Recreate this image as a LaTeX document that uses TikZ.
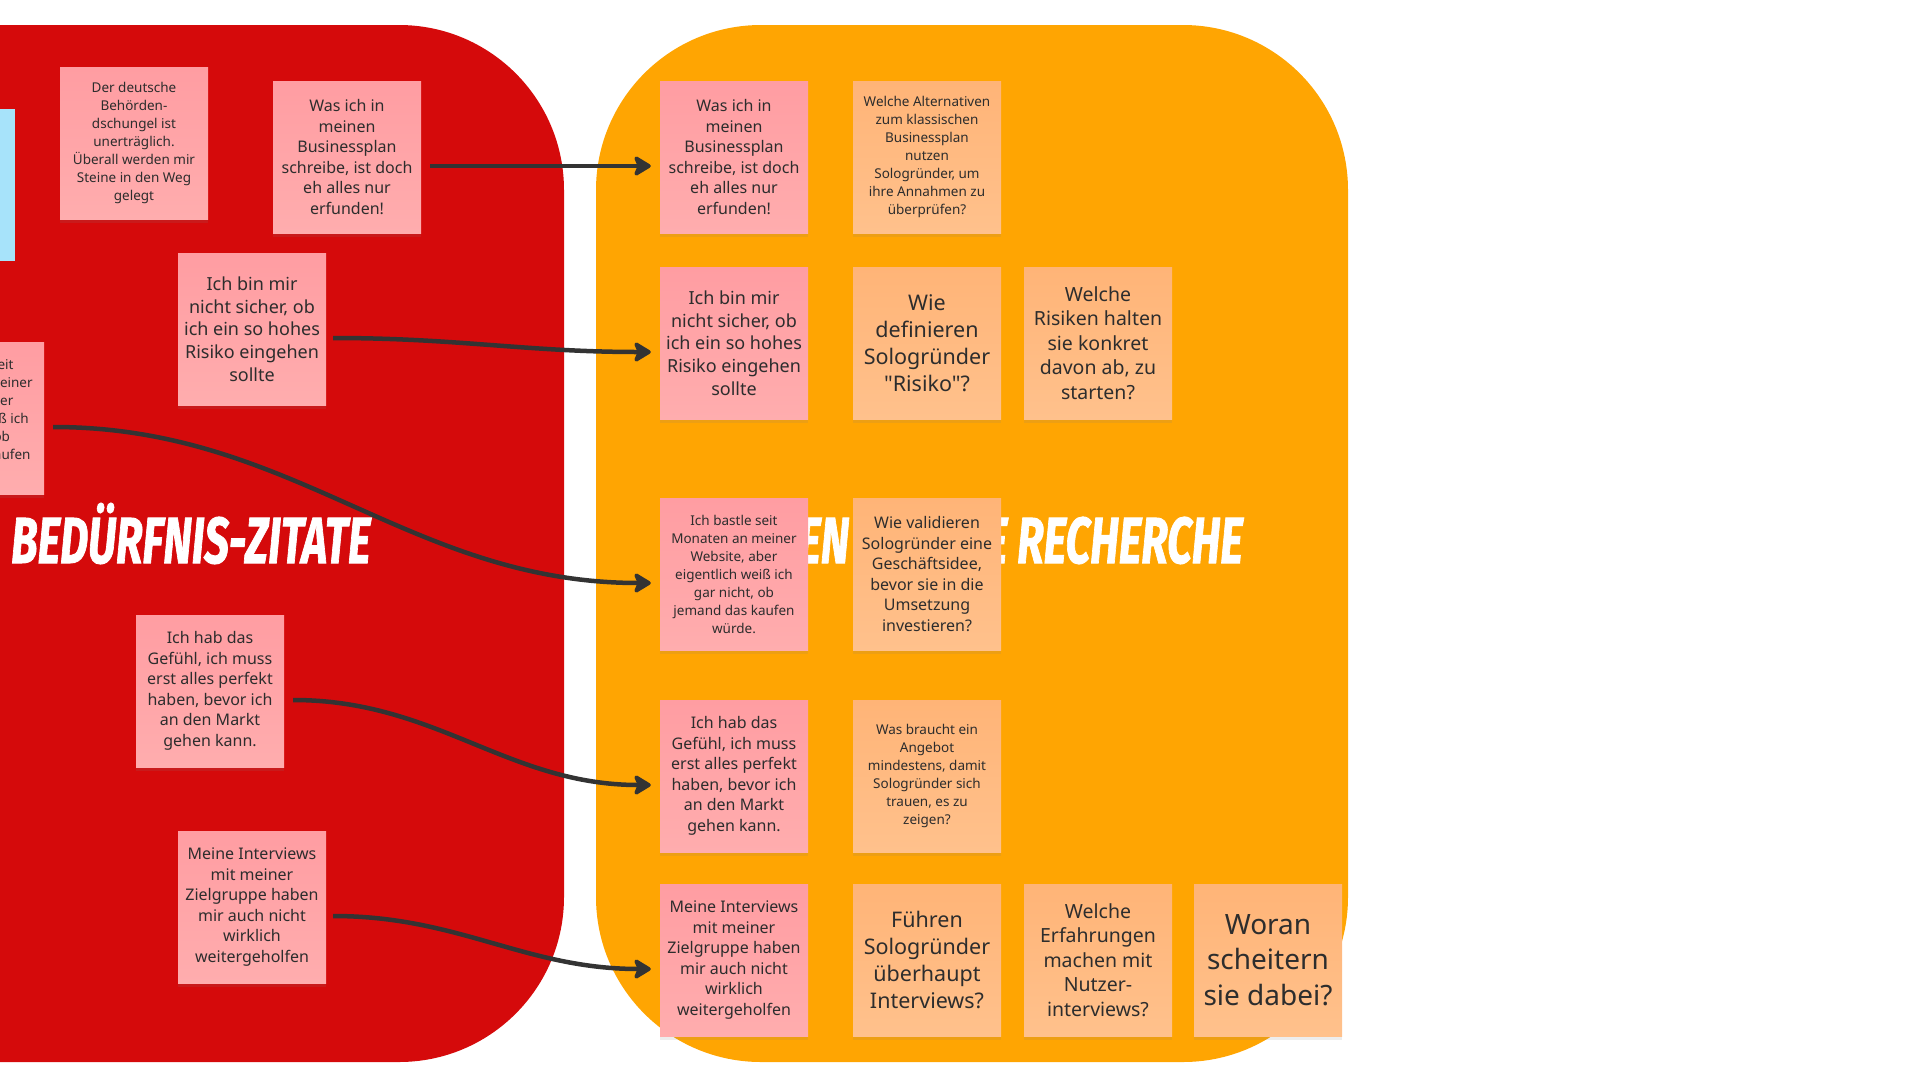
\documentclass[tikz,border=0pt]{standalone}
\usepackage{graphicx}
\usepackage{fontspec}
\setmainfont{Noto Sans}[Ligatures=TeXOff]
\newfontfamily\titlefont{Fira Sans}[BoldItalicFeatures={FakeBold=1.5}]
\usetikzlibrary{arrows.meta,shadows}
\definecolor{panelred}{HTML}{D50A0B}
\definecolor{panelorange}{HTML}{FFA502}
\definecolor{quotetop}{HTML}{FF9DA2}
\definecolor{quotebot}{HTML}{FFADAE}
\definecolor{questtop}{HTML}{FFB477}
\definecolor{questbot}{HTML}{FFC18C}
\definecolor{tagblue}{HTML}{A7E3FA}
\definecolor{arrowgray}{HTML}{333333}
\definecolor{notetext}{HTML}{2D2D2D}

\begin{document}
\begin{tikzpicture}[x=1pt,y=-1pt,
  note/.style={minimum width=148pt,minimum height=152pt,inner sep=0pt,align=center,text=notetext,
    drop shadow={shadow xshift=0pt,shadow yshift=-4pt,opacity=0.14}},
  quote/.style={note,top color=quotetop,bottom color=quotebot},
  quest/.style={note,top color=questtop,bottom color=questbot},
  fsA/.style={font=\fontsize{13.5}{18}\selectfont},
  fsB/.style={font=\fontsize{16}{20.5}\selectfont},
  fsC/.style={font=\fontsize{18}{22.7}\selectfont},
  fsD/.style={font=\fontsize{19.5}{24.5}\selectfont},
  fsE/.style={font=\fontsize{21.5}{27}\selectfont},
  fsF/.style={font=\fontsize{28}{35.5}\selectfont},
  heading/.style={text=white,inner sep=0pt,font=\titlefont\bfseries\itshape\fontsize{65}{65}\selectfont},
  flow/.style={draw=arrowgray,line width=4.5pt,-{Stealth[length=20pt,width=24pt,inset=5pt,round]}}]
\useasboundingbox (0,0) rectangle (1920,1080);
\clip (0,0) rectangle (1920,1080);
\fill[panelred,rounded corners=165pt] (-400,25) rectangle (564,1062);
\fill[panelorange,rounded corners=165pt] (596,25) rectangle (1348,1062);
\fill[tagblue] (-20,109) rectangle (15,261);

\node[heading,anchor=base west] (t1) at (11,563) {\scalebox{0.67}[1]{BEDÜRFNIS-ZITATE}};
\node[heading,anchor=base east] (t2) at (1243,563) {\scalebox{0.67}[1]{THEMEN FÜR DIE RECHERCHE}};

\node[quote,fsA] (n1) at (134,143) {Der deutsche\\Behörden-\\dschungel ist\\unerträglich.\\Überall werden mir\\Steine in den Weg\\gelegt};
\node[quote,fsB] (n2) at (347,157) {Was ich in\\meinen\\Businessplan\\schreibe, ist doch\\eh alles nur\\erfunden!};
\node[quote,fsC] (n3) at (252,329) {Ich bin mir\\nicht sicher, ob\\ich ein so hohes\\Risiko eingehen\\sollte};
\node[quote,fsA] (n4) at (-30,418) {Ich bastle seit\\Monaten an meiner\\Website, aber\\eigentlich weiß ich\\gar nicht, ob\\jemand das kaufen\\würde.};
\node[quote,fsB] (n5) at (210,691) {Ich hab das\\Gefühl, ich muss\\erst alles perfekt\\haben, bevor ich\\an den Markt\\gehen kann.};
\node[quote,fsB] (n6) at (252,907) {Meine Interviews\\mit meiner\\Zielgruppe haben\\mir auch nicht\\wirklich\\weitergeholfen};

\node[quote,fsB] (r1a) at (734,157) {Was ich in\\meinen\\Businessplan\\schreibe, ist doch\\eh alles nur\\erfunden!};
\node[quest,fsA] (r1b) at (927,157) {Welche Alternativen\\zum klassischen\\Businessplan\\nutzen\\Sologründer, um\\ihre Annahmen zu\\überprüfen?};
\node[quote,fsC] (r2a) at (734,343) {Ich bin mir\\nicht sicher, ob\\ich ein so hohes\\Risiko eingehen\\sollte};
\node[quest,fsE] (r2b) at (927,343) {Wie\\definieren\\Sologründer\\"Risiko"?};
\node[quest,fsD] (r2c) at (1098,343) {Welche\\Risiken halten\\sie konkret\\davon ab, zu\\starten?};
\node[quote,fsA] (r3a) at (734,574) {Ich bastle seit\\Monaten an meiner\\Website, aber\\eigentlich weiß ich\\gar nicht, ob\\jemand das kaufen\\würde.};
\node[quest,fsB] (r3b) at (927,574) {Wie validieren\\Sologründer eine\\Geschäftsidee,\\bevor sie in die\\Umsetzung\\investieren?};
\node[quote,fsB] (r4a) at (734,776) {Ich hab das\\Gefühl, ich muss\\erst alles perfekt\\haben, bevor ich\\an den Markt\\gehen kann.};
\node[quest,fsA] (r4b) at (927,776) {Was braucht ein\\Angebot\\mindestens, damit\\Sologründer sich\\trauen, es zu\\zeigen?};
\node[quote,fsB] (r5a) at (734,960) {Meine Interviews\\mit meiner\\Zielgruppe haben\\mir auch nicht\\wirklich\\weitergeholfen};
\node[quest,fsE] (r5b) at (927,960) {Führen\\Sologründer\\überhaupt\\Interviews?};
\node[quest,fsD] (r5c) at (1098,960) {Welche\\Erfahrungen\\machen mit\\Nutzer-\\interviews?};
\node[quest,fsF] (r5d) at (1268,960) {Woran\\scheitern\\sie dabei?};

\draw[flow] ([xshift=9pt,yshift=-9pt]n2.east) -- ([xshift=-9pt,yshift=-9pt]r1a.west);
\draw[flow] ([xshift=7pt,yshift=-9pt]n3.east) to[out=0,in=180] ([xshift=-9pt,yshift=-9pt]r2a.west);
\draw[flow] ([xshift=9pt,yshift=-9pt]n4.east) to[out=0,in=180] ([xshift=-9pt,yshift=-9pt]r3a.west);
\draw[flow] ([xshift=9pt,yshift=-9pt]n5.east) to[out=0,in=180] ([xshift=-9pt,yshift=-9pt]r4a.west);
\draw[flow] ([xshift=7pt,yshift=-9pt]n6.east) to[out=0,in=180] ([xshift=-9pt,yshift=-9pt]r5a.west);
\end{tikzpicture}
\end{document}
